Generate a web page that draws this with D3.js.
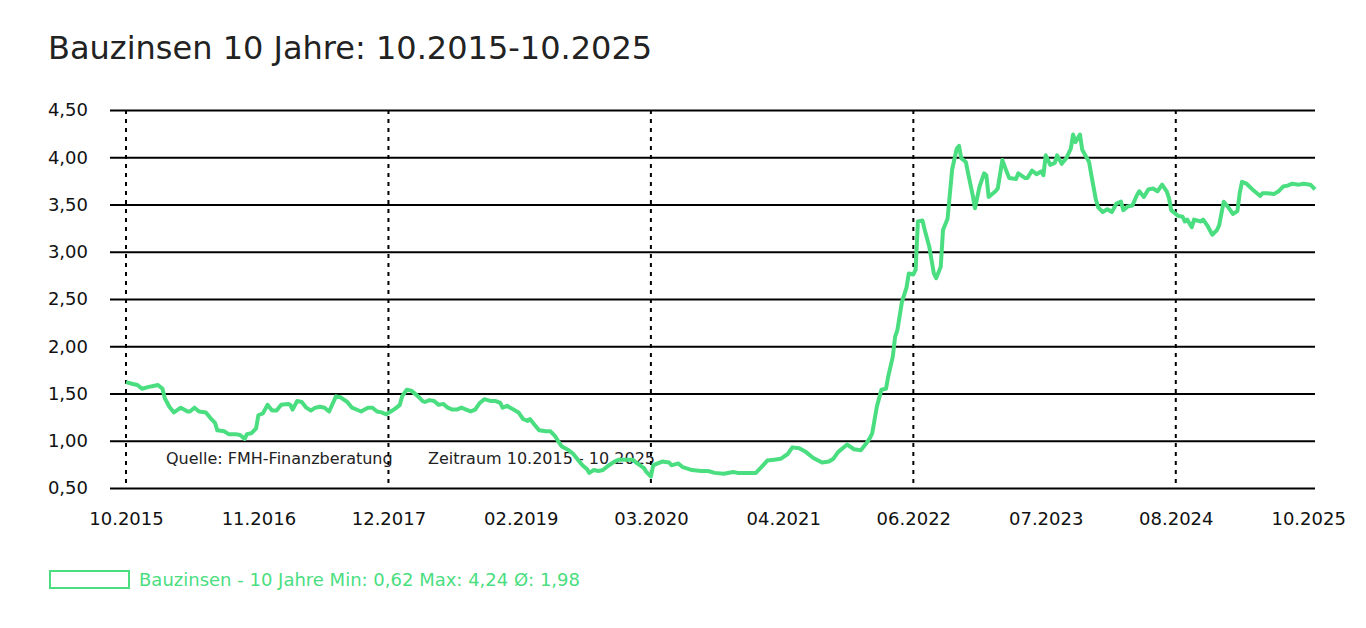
<!DOCTYPE html>
<html>
<head>
<meta charset="utf-8">
<script src="https://cdn.jsdelivr.net/npm/d3@7"></script>
<style>
    body { margin: 0; background: #fff; }
    svg { display: block; }
</style>
</head>
<body>
<div id="chart"></div>
<script>
// week number since 10.2015 and the 10-year mortgage rate (%) at that week
const weekIdx = [
    0, 3, 5, 7, 10, 12, 14, 16, 17, 19, 21, 24, 27, 28, 30, 32, 35, 37, 39, 40,
    43, 45, 48, 50, 52, 53, 55, 57, 58, 60, 62, 64, 66, 68, 71, 72, 73, 75, 77, 79,
    81, 83, 85, 87, 89, 92, 94, 97, 99, 102, 103, 106, 108, 110, 112, 114, 116, 118, 120, 121,
    123, 125, 128, 130, 131, 133, 135, 137, 139, 141, 143, 145, 147, 149, 151, 153, 155, 157, 160, 162,
    164, 165, 167, 169, 172, 174, 176, 177, 179, 181, 184, 186, 188, 190, 191, 194, 196, 198, 200, 202,
    203, 205, 207, 209, 211, 214, 216, 219, 222, 224, 227, 228, 230, 231, 233, 235, 238, 239, 242, 244,
    248, 252, 255, 258, 262, 266, 268, 272, 276, 278, 281, 284, 287, 290, 292, 295, 298, 301, 305, 308,
    310, 312, 316, 319, 322, 324, 326, 327, 329, 331, 333, 334, 336, 337, 338, 340, 342, 343, 345, 346,
    347, 349, 350, 352, 354, 355, 357, 358, 360, 362, 364, 365, 366, 368, 369, 371, 372, 374, 376, 377,
    378, 381, 382, 384, 386, 387, 390, 391, 394, 395, 397, 399, 401, 402, 403, 405, 407, 408, 410, 412,
    414, 415, 416, 418, 419, 422, 423, 425, 426, 428, 430, 432, 434, 436, 437, 439, 441, 443, 444, 446,
    448, 450, 452, 454, 456, 457, 458, 461, 463, 464, 465, 467, 468, 471, 472, 474, 476, 478, 479, 481,
    483, 485, 487, 488, 489, 491, 494, 497, 498, 500, 503, 505, 507, 509, 511, 514, 516, 519, 521
];
const rateVals = [
    1.62, 1.60, 1.59, 1.55, 1.57, 1.58, 1.59, 1.55, 1.45, 1.36, 1.30, 1.35, 1.31, 1.31, 1.35, 1.31, 1.30, 1.24, 1.19, 1.11,
    1.10, 1.07, 1.07, 1.06, 1.02, 1.07, 1.08, 1.13, 1.27, 1.29, 1.38, 1.32, 1.32, 1.38, 1.39, 1.38, 1.33, 1.42, 1.41, 1.35,
    1.32, 1.35, 1.36, 1.35, 1.31, 1.47, 1.46, 1.41, 1.35, 1.32, 1.31, 1.35, 1.35, 1.31, 1.30, 1.28, 1.31, 1.34, 1.38, 1.47,
    1.54, 1.53, 1.47, 1.42, 1.41, 1.43, 1.42, 1.38, 1.39, 1.35, 1.33, 1.33, 1.35, 1.33, 1.31, 1.33, 1.40, 1.44, 1.42, 1.42,
    1.40, 1.35, 1.37, 1.34, 1.30, 1.23, 1.21, 1.23, 1.17, 1.11, 1.10, 1.10, 1.05, 0.97, 0.94, 0.90, 0.86, 0.80, 0.74, 0.70,
    0.66, 0.69, 0.68, 0.69, 0.73, 0.78, 0.80, 0.80, 0.80, 0.76, 0.71, 0.67, 0.62, 0.74, 0.76, 0.78, 0.77, 0.74, 0.76, 0.72,
    0.69, 0.68, 0.68, 0.66, 0.65, 0.67, 0.66, 0.66, 0.66, 0.71, 0.79, 0.80, 0.81, 0.86, 0.93, 0.92, 0.88, 0.82, 0.77, 0.78,
    0.81, 0.88, 0.96, 0.91, 0.90, 0.96, 1.03, 1.08, 1.36, 1.54, 1.55, 1.68, 1.89, 2.10, 2.17, 2.47, 2.62, 2.77, 2.76, 2.81,
    3.32, 3.33, 3.23, 3.05, 2.77, 2.72, 2.84, 3.23, 3.35, 3.87, 4.09, 4.12, 3.99, 3.95, 3.83, 3.60, 3.46, 3.69, 3.83, 3.81,
    3.58, 3.64, 3.67, 3.97, 3.84, 3.78, 3.77, 3.83, 3.78, 3.78, 3.86, 3.82, 3.85, 3.81, 4.02, 3.92, 3.94, 4.02, 3.93, 3.99,
    4.09, 4.24, 4.16, 4.24, 4.08, 3.95, 3.81, 3.55, 3.47, 3.42, 3.45, 3.42, 3.51, 3.53, 3.44, 3.48, 3.49, 3.60, 3.64, 3.58,
    3.66, 3.67, 3.64, 3.71, 3.64, 3.57, 3.44, 3.38, 3.37, 3.32, 3.34, 3.26, 3.34, 3.32, 3.34, 3.27, 3.18, 3.23, 3.28, 3.53,
    3.47, 3.40, 3.43, 3.62, 3.74, 3.72, 3.65, 3.59, 3.62, 3.62, 3.61, 3.64, 3.69, 3.70, 3.72, 3.71, 3.72, 3.71, 3.66
];

// x labels and the week they sit on; every second one gets a dotted line
const tickLabels = ['10.2015', '11.2016', '12.2017', '02.2019', '03.2020', '04.2021', '06.2022', '07.2023', '08.2024', '10.2025'];
const tickWeeks = [0, 58, 115, 173, 230, 288, 345, 403, 460, 518];
const yTicks = [0.5, 1, 1.5, 2, 2.5, 3, 3.5, 4, 4.5];

const title = 'Bauzinsen 10 Jahre: 10.2015-10.2025';
const sourceText = 'Quelle: FMH-Finanzberatung';
const periodText = 'Zeitraum 10.2015 - 10.2025';
const legendText = 'Bauzinsen - 10 Jahre Min: 0,62 Max: 4,24 Ø: 1,98';

const width = 1366, height = 628;
const green = '#4ade80';
const font = 'DejaVu Sans';

const gridLeft = 110, plotLeft = 126, plotRight = 1315;
const plotTop = 110, plotBottom = 488;

const data = weekIdx.map((w, i) => ({ w, v: rateVals[i] }));

const svg = d3.select('#chart').append('svg')
    .attr('width', width)
    .attr('height', height)
    .attr('font-family', font);

const x = d3.scaleLinear().domain([0, 521]).range([plotLeft, plotRight]);
const y = d3.scaleLinear().domain([0.5, 4.5]).range([plotBottom, plotTop]);

// title
svg.append('text')
    .attr('x', 48)
    .attr('y', 59)
    .attr('font-size', 32)
    .attr('fill', '#222')
    .text(title);

// horizontal grid + y labels
const yAxis = d3.axisLeft(y)
    .tickValues(yTicks)
    .tickSize(-(plotRight - gridLeft))
    .tickPadding(22)
    .tickFormat(d => d.toFixed(2).replace('.', ','));

const yAxisG = svg.append('g')
    .attr('transform', `translate(${gridLeft},0)`)
    .call(yAxis);
yAxisG.select('.domain').remove();
yAxisG.selectAll('.tick line').attr('stroke', '#000').attr('stroke-width', 2);
yAxisG.selectAll('text')
    .attr('font-size', 18)
    .attr('font-family', font)
    .attr('fill', '#111');

// x labels
const xAxis = d3.axisBottom(x)
    .tickValues(tickWeeks)
    .tickSize(0)
    .tickPadding(24)
    .tickFormat((d, i) => tickLabels[i]);

const xAxisG = svg.append('g')
    .attr('transform', `translate(0,${plotBottom})`)
    .call(xAxis);
xAxisG.select('.domain').remove();
xAxisG.selectAll('text')
    .attr('font-size', 18)
    .attr('font-family', font)
    .attr('fill', '#111');

// source / period notes
svg.append('text')
    .attr('x', 166).attr('y', 464)
    .attr('font-size', 16)
    .attr('fill', '#222')
    .text(sourceText);
svg.append('text')
    .attr('x', 428).attr('y', 464)
    .attr('font-size', 16)
    .attr('fill', '#222')
    .text(periodText);

// dotted year markers
svg.append('g')
    .selectAll('line')
    .data(tickWeeks.filter((d, i) => i % 2 === 0))
    .join('line')
    .attr('x1', d => x(d)).attr('x2', d => x(d))
    .attr('y1', plotTop).attr('y2', plotBottom)
    .attr('stroke', '#000')
    .attr('stroke-width', 2)
    .attr('stroke-dasharray', '4,5');

// rate line
const line = d3.line()
    .x(d => x(d.w))
    .y(d => y(d.v));

svg.append('path')
    .datum(data)
    .attr('fill', 'none')
    .attr('stroke', green)
    .attr('stroke-width', 4)
    .attr('stroke-linejoin', 'round')
    .attr('d', line);

// legend
const legend = svg.append('g').attr('transform', 'translate(50,571)');
legend.append('rect')
    .attr('width', 79)
    .attr('height', 17)
    .attr('fill', 'none')
    .attr('stroke', green)
    .attr('stroke-width', 2);
legend.append('text')
    .attr('x', 89)
    .attr('y', 15)
    .attr('font-size', 18)
    .attr('fill', green)
    .text(legendText);
</script>
</body>
</html>
